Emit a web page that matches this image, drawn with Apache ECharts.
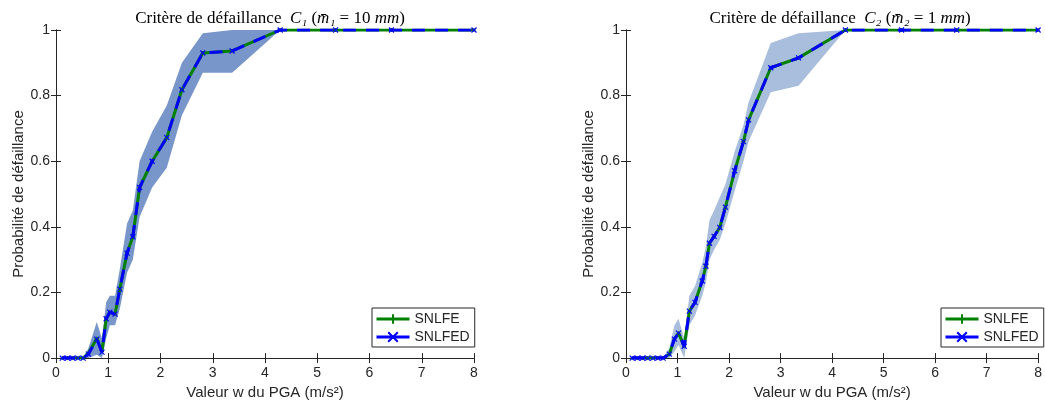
<!DOCTYPE html>
<html>
<head>
<meta charset="utf-8">
<script src="https://cdn.jsdelivr.net/npm/echarts@6/dist/echarts.min.js"></script>
<style>html,body{margin:0;padding:0;background:#fff}#c{width:1045px;height:405px}</style>
</head>
<body>
<div id="c"></div>
<script>
// ---- Left plot: C1 ----
const xL = [0.12, 0.22, 0.32, 0.42, 0.52, 0.62, 0.78, 0.88, 0.96, 1.03, 1.13, 1.22, 1.36, 1.47, 1.6, 1.84, 2.12, 2.41, 2.81, 3.37, 4.29, 5.35, 6.42, 8.0];
const snlfeL  = [0, 0, 0, 0, 0, 0.015, 0.06, 0.02, 0.12, 0.14, 0.134, 0.21, 0.32, 0.37, 0.52, 0.6, 0.672, 0.818, 0.93, 0.936, 1, 1, 1, 1];
const snlfedL = [0, 0, 0, 0, 0, 0.012, 0.058, 0.018, 0.12, 0.14, 0.134, 0.21, 0.32, 0.37, 0.52, 0.6, 0.672, 0.818, 0.93, 0.936, 1, 1, 1, 1];
const lowL = [0, 0, 0, 0, 0, 0, 0.01, 0, 0.06, 0.1, 0.1, 0.15, 0.26, 0.3, 0.43, 0.52, 0.58, 0.74, 0.87, 0.87, 1, 1, 1, 1];
const upL  = [0, 0, 0, 0, 0, 0.03, 0.11, 0.06, 0.17, 0.19, 0.19, 0.27, 0.41, 0.45, 0.6, 0.69, 0.77, 0.9, 0.99, 1, 1, 1, 1, 1];

// ---- Right plot: C2 ----
const xR = [0.12, 0.22, 0.32, 0.42, 0.52, 0.62, 0.72, 0.84, 0.94, 1.02, 1.13, 1.23, 1.34, 1.48, 1.55, 1.62, 1.71, 1.82, 1.93, 2.11, 2.28, 2.38, 2.81, 3.35, 4.26, 5.35, 6.42, 8.0];
const snlfeR  = [0, 0, 0, 0, 0, 0, 0, 0.012, 0.058, 0.076, 0.036, 0.143, 0.17, 0.235, 0.28, 0.35, 0.371, 0.398, 0.46, 0.571, 0.66, 0.726, 0.885, 0.915, 1, 1, 1, 1];
const snlfedR = [0, 0, 0, 0, 0, 0, 0, 0.012, 0.058, 0.076, 0.036, 0.143, 0.17, 0.235, 0.28, 0.35, 0.371, 0.398, 0.46, 0.571, 0.66, 0.726, 0.885, 0.915, 1, 1, 1, 1];
const lowR = [0, 0, 0, 0, 0, 0, 0, 0, 0.02, 0.04, 0, 0.1, 0.13, 0.19, 0.23, 0.3, 0.33, 0.36, 0.41, 0.51, 0.6, 0.66, 0.81, 0.83, 1, 1, 1, 1];
const upR  = [0, 0, 0, 0, 0, 0, 0, 0.03, 0.1, 0.12, 0.06, 0.19, 0.22, 0.29, 0.34, 0.42, 0.45, 0.49, 0.53, 0.63, 0.71, 0.78, 0.96, 0.99, 1, 1, 1, 1];

const xTicks = [0, 1, 2, 3, 4, 5, 6, 7, 8];
const yTicks = [0, 0.2, 0.4, 0.6, 0.8, 1];
const seriesNames = ['SNLFE', 'SNLFED'];
const yName = 'Probabilité de défaillance';
const xName = 'Valeur w du PGA (m/s²)';

const AX = '#262626';
const GREEN = '#008000';
const BLUE = '#0000ff';
const SANS = 'Liberation Sans, Arial, sans-serif';
const XMARK = 'path://M0,0L10,10M10,0L0,10';
const PLUS = 'path://M5,0L5,10M0,5L10,5';

const pairs = (xs, ys) => xs.map((x, i) => [x, ys[i]]);

function xAxes(g) {
  const base = {
    gridIndex: g, type: 'value', min: xTicks[0], max: xTicks[xTicks.length - 1], interval: 1,
    axisLine: {lineStyle: {color: AX, width: 1}},
    axisTick: {inside: true, length: 5, lineStyle: {color: AX}},
    splitLine: {show: false}
  };
  return [
    Object.assign({}, base, {
      position: 'bottom',
      axisLabel: {color: AX, fontSize: 14, margin: 8, fontFamily: SANS},
      name: xName, nameLocation: 'middle', nameGap: 25,
      nameTextStyle: {color: AX, fontSize: 15, fontFamily: SANS}
    }),
    Object.assign({}, base, {position: 'top', axisLabel: {show: false}})
  ];
}
function yAxes(g) {
  const base = {
    gridIndex: g, type: 'value', min: yTicks[0], max: yTicks[yTicks.length - 1], interval: 0.2,
    axisLine: {show: true, lineStyle: {color: AX, width: 1}},
    axisTick: {show: true, inside: true, length: 5, lineStyle: {color: AX}},
    splitLine: {show: false}
  };
  return [
    Object.assign({}, base, {
      position: 'left',
      axisLabel: {color: AX, fontSize: 14, margin: 6, fontFamily: SANS},
      name: yName, nameLocation: 'middle', nameGap: 30,
      nameTextStyle: {color: AX, fontSize: 15, fontFamily: SANS}
    }),
    Object.assign({}, base, {position: 'right', axisLabel: {show: false}})
  ];
}

function bandSeries(g, xs, lo, up, color, key) {
  return {
    type: 'custom', name: 'band' + key, coordinateSystem: 'cartesian2d',
    xAxisIndex: g * 2, yAxisIndex: g * 2, silent: true, z: 1,
    data: pairs(xs, up),
    renderItem: function (params, api) {
      if (params.dataIndex !== 0) return null;
      const pts = [];
      for (let i = 0; i < xs.length; i++) pts.push(api.coord([xs[i], up[i]]));
      for (let i = xs.length - 1; i >= 0; i--) pts.push(api.coord([xs[i], lo[i]]));
      return {type: 'polygon', shape: {points: pts}, style: {fill: color, stroke: null}};
    }
  };
}
function curveSeries(g, xs, ye, yd) {
  const xi = g * 2, yi = g * 2;
  return [
    {type: 'line', name: seriesNames[0], xAxisIndex: xi, yAxisIndex: yi, data: pairs(xs, ye),
     symbol: PLUS, symbolSize: 4, showAllSymbol: true,
     itemStyle: {color: GREEN, borderColor: GREEN, borderWidth: 1},
     lineStyle: {color: GREEN, width: 3}, z: 3},
    {type: 'line', name: seriesNames[1], xAxisIndex: xi, yAxisIndex: yi, data: pairs(xs, yd),
     symbol: XMARK, symbolSize: 5, showAllSymbol: true,
     itemStyle: {color: BLUE, borderColor: BLUE, borderWidth: 1.2},
     lineStyle: {color: BLUE, width: 3, type: [13, 10]}, z: 4}
  ];
}

function legendFor(left) {
  return {
    left: left, top: 308, orient: 'vertical',
    borderColor: AX, borderWidth: 1, backgroundColor: '#fff', borderRadius: 0,
    padding: [4, 5, 3, 3], itemGap: 4, itemWidth: 33, itemHeight: 12,
    textStyle: {color: AX, fontSize: 14, fontFamily: SANS},
    data: [
      {name: seriesNames[0], itemStyle: {color: GREEN}, lineStyle: {color: GREEN, width: 3, type: 'solid'}},
      {name: seriesNames[1], itemStyle: {color: BLUE}, lineStyle: {color: BLUE, width: 3, type: 'solid'}}
    ]
  };
}

const serif = 'Liberation Serif, DejaVu Serif, serif';
const rich = {
  n: {fontFamily: serif, fontSize: 17, color: '#000', fontWeight: 'normal'},
  i: {fontFamily: serif, fontSize: 17, color: '#000', fontWeight: 'normal', fontStyle: 'italic'}
};
function titleFor(cx, sub, val) {
  return {
    left: cx, top: 5, textAlign: 'center',
    text: '{n|Critère de défaillance  }{i|C' + sub + '}{n| (}{i|m̄' + sub + '}{n| = ' + val + ' }{i|mm}{n|)}',
    textStyle: {rich: rich, fontWeight: 'normal'}
  };
}

const option = {
  animation: false,
  backgroundColor: '#fff',
  title: [titleFor(265, '₁', '10'), titleFor(835, '₂', '1')],
  grid: [
    {left: 56, top: 30, width: 418, height: 329},
    {left: 626, top: 30, width: 417, height: 329}
  ],
  xAxis: xAxes(0).concat(xAxes(1)),
  yAxis: yAxes(0).concat(yAxes(1)),
  legend: [legendFor(372), legendFor(941)],
  series: [].concat(
    bandSeries(0, xL, lowL, upL, '#7896c9', 'L'),
    bandSeries(1, xR, lowR, upR, '#a9bedd', 'R'),
    curveSeries(0, xL, snlfeL, snlfedL),
    curveSeries(1, xR, snlfeR, snlfedR)
  )
};
const chart = echarts.init(document.getElementById('c'));
chart.setOption(option);
</script>
</body>
</html>
